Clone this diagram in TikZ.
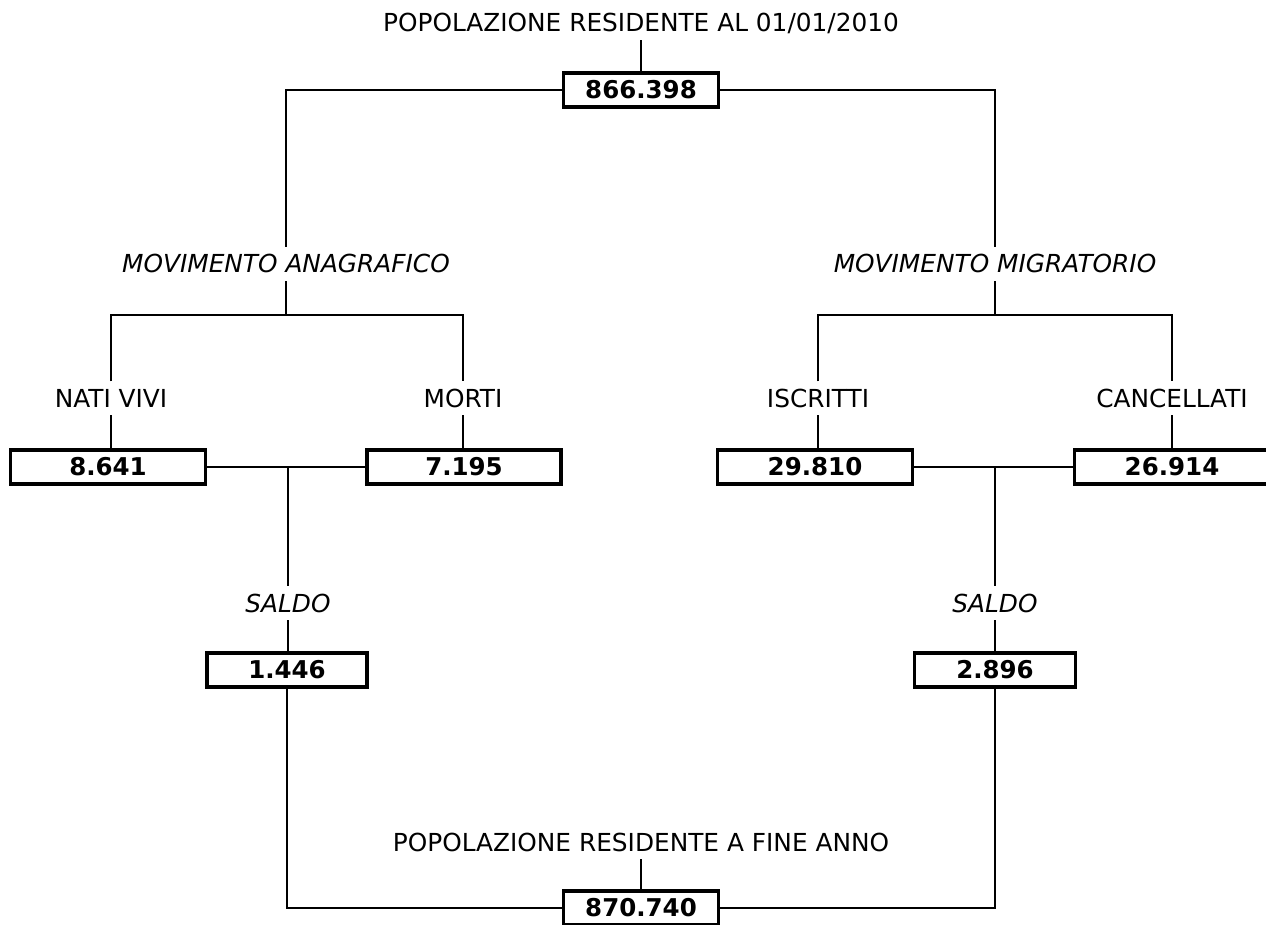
\documentclass[tikz,border=0pt]{standalone}
\usepackage{fontspec}
\setmainfont{DejaVu Sans}
\begin{document}
\begin{tikzpicture}[x=1pt,y=-1pt,
  lbl/.style={inner xsep=2pt, inner ysep=8pt, text height=17.5pt, text depth=0pt, anchor=base, font=\fontsize{24.8}{28}\selectfont},
  ilbl/.style={lbl, font=\fontsize{24.8}{28}\selectfont\itshape},
  num/.style={draw, line width=3.2pt, minimum height=34pt, inner sep=0pt, font=\fontsize{24.5}{28}\selectfont\bfseries},
  conn/.style={line width=1.3pt}]
\useasboundingbox (0,0) rectangle (1266,925);
% top
\node[lbl] (ttop) at (641,32) {POPOLAZIONE RESIDENTE AL 01/01/2010};
\node[num,minimum width=155pt] (btop) at (641,90) {866.398};
\draw[conn] (ttop.south) -- (btop.north);
% branch labels
\node[ilbl] (ma) at (286,273) {MOVIMENTO ANAGRAFICO};
\node[ilbl] (mm) at (995,273) {MOVIMENTO MIGRATORIO};
\draw[conn] (btop.west) -| (ma.north);
\draw[conn] (btop.east) -| (mm.north);
\coordinate (jl) at (288,315);
\coordinate (jr) at (995,315);
% left subtree
\node[lbl] (nv) at (111,407) {NATI VIVI};
\node[lbl] (mo) at (463,407) {MORTI};
\draw[conn] (ma.south) -- (ma.south |- jl);
\draw[conn] (nv.north) -- (nv.north |- jl) -- (mo.north |- jl) -- (mo.north);
\node[num,minimum width=195pt] (bnv) at (108,467) {8.641};
\node[num,minimum width=194pt] (bmo) at (464,467) {7.195};
\draw[conn] (nv.south) -- (nv.south |- bnv.north);
\draw[conn] (mo.south) -- (mo.south |- bmo.north);
\draw[conn] (bnv.east) -- (bmo.west);
\node[ilbl] (sl) at (288,612) {SALDO};
\draw[conn] (sl.north |- bnv.east) -- (sl.north);
\node[num,minimum width=160pt] (bsl) at (287,670) {1.446};
\draw[conn] (sl.south) -- (sl.south |- bsl.north);
% right subtree
\node[lbl] (is) at (818,407) {ISCRITTI};
\node[lbl] (ca) at (1172,407) {CANCELLATI};
\draw[conn] (mm.south) -- (mm.south |- jr);
\draw[conn] (is.north) -- (is.north |- jr) -- (ca.north |- jr) -- (ca.north);
\node[num,minimum width=195pt] (bis) at (815,467) {29.810};
\node[num,minimum width=195pt] (bca) at (1172,467) {26.914};
\draw[conn] (is.south) -- (is.south |- bis.north);
\draw[conn] (ca.south) -- (ca.south |- bca.north);
\draw[conn] (bis.east) -- (bca.west);
\node[ilbl] (sr) at (995,612) {SALDO};
\draw[conn] (sr.north |- bis.east) -- (sr.north);
\node[num,minimum width=161pt] (bsr) at (995,670) {2.896};
\draw[conn] (sr.south) -- (sr.south |- bsr.north);
% bottom
\node[lbl] (tbot) at (641,851) {POPOLAZIONE RESIDENTE A FINE ANNO};
\node[num,minimum width=155pt] (bbot) at (641,908) {870.740};
\draw[conn] (tbot.south) -- (bbot.north);
\draw[conn] (bsl.south) |- (bbot.west);
\draw[conn] (bsr.south) |- (bbot.east);
\end{tikzpicture}
\end{document}
